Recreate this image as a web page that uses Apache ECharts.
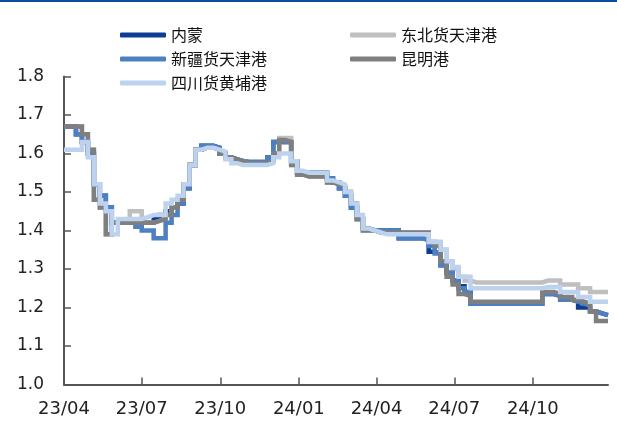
<!DOCTYPE html>
<html><head><meta charset="utf-8">
<script src="https://cdn.jsdelivr.net/npm/echarts@6/dist/echarts.min.js"></script>
<style>html,body{margin:0;padding:0;background:#fff}#c{width:617px;height:423px}</style>
</head><body><div id="c"></div>
<script>
// weekly dates
const dates = [
'2023-04-01','2023-04-08','2023-04-15','2023-04-22','2023-04-29','2023-05-06','2023-05-13','2023-05-20','2023-05-27','2023-06-03',
'2023-06-10','2023-06-17','2023-06-24','2023-07-01','2023-07-08','2023-07-15','2023-07-22','2023-07-29','2023-08-05','2023-08-12',
'2023-08-19','2023-08-26','2023-09-02','2023-09-09','2023-09-16','2023-09-23','2023-09-30','2023-10-07','2023-10-14','2023-10-21',
'2023-10-28','2023-11-04','2023-11-11','2023-11-18','2023-11-25','2023-12-02','2023-12-09','2023-12-16','2023-12-23','2023-12-30',
'2024-01-06','2024-01-13','2024-01-20','2024-01-27','2024-02-03','2024-02-10','2024-02-17','2024-02-24','2024-03-02','2024-03-09',
'2024-03-16','2024-03-23','2024-03-30','2024-04-06','2024-04-13','2024-04-20','2024-04-27','2024-05-04','2024-05-11','2024-05-18',
'2024-05-25','2024-06-01','2024-06-08','2024-06-15','2024-06-22','2024-06-29','2024-07-06','2024-07-13','2024-07-20','2024-07-27',
'2024-08-03','2024-08-10','2024-08-17','2024-08-24','2024-08-31','2024-09-07','2024-09-14','2024-09-21','2024-09-28','2024-10-05',
'2024-10-12','2024-10-19','2024-10-26','2024-11-02','2024-11-09','2024-11-16','2024-11-23','2024-11-30','2024-12-07','2024-12-14',
'2024-12-21','2024-12-28'];

const neimeng = [
1.67,1.67,1.65,1.63,1.60,1.52,1.49,1.46,1.42,1.42,
1.42,1.42,1.41,1.42,1.42,1.43,1.44,1.45,1.46,1.47,
1.51,1.57,1.61,1.62,1.62,1.615,1.60,1.59,1.585,1.58,
1.578,1.578,1.578,1.578,1.59,1.63,1.63,1.63,1.58,1.55,
1.55,1.55,1.55,1.55,1.535,1.525,1.51,1.49,1.46,1.43,
1.405,1.40,1.40,1.40,1.40,1.40,1.38,1.38,1.38,1.38,
1.375,1.345,1.34,1.31,1.29,1.27,1.255,1.24,1.21,1.21,
1.21,1.21,1.21,1.21,1.21,1.21,1.21,1.21,1.21,1.21,
1.235,1.235,1.23,1.22,1.22,1.215,1.20,1.20,1.19,1.185,
1.18,1.18];

const dongbei = [
1.67,1.67,1.67,1.65,1.61,1.48,1.46,1.39,1.42,1.42,
1.42,1.45,1.45,1.42,1.42,1.425,1.43,1.44,1.46,1.48,
1.52,1.57,1.61,1.615,1.615,1.61,1.60,1.59,1.585,1.58,
1.575,1.575,1.575,1.575,1.58,1.60,1.64,1.64,1.57,1.545,
1.54,1.54,1.54,1.54,1.525,1.52,1.515,1.50,1.47,1.43,
1.40,1.40,1.395,1.395,1.395,1.395,1.395,1.395,1.395,1.395,
1.395,1.37,1.37,1.35,1.32,1.30,1.28,1.27,1.265,1.265,
1.265,1.265,1.265,1.265,1.265,1.265,1.265,1.265,1.265,1.265,
1.27,1.27,1.27,1.26,1.26,1.26,1.25,1.25,1.24,1.24,
1.24,1.24];

const xinjiang = [
1.67,1.67,1.65,1.63,1.60,1.52,1.49,1.46,1.42,1.42,
1.42,1.42,1.41,1.40,1.40,1.38,1.38,1.42,1.44,1.47,
1.51,1.57,1.61,1.62,1.62,1.615,1.60,1.59,1.585,1.58,
1.578,1.578,1.578,1.578,1.59,1.63,1.63,1.63,1.58,1.55,
1.55,1.55,1.55,1.55,1.535,1.525,1.51,1.49,1.46,1.43,
1.405,1.40,1.40,1.40,1.40,1.40,1.38,1.38,1.38,1.38,
1.375,1.36,1.34,1.31,1.29,1.27,1.25,1.24,1.21,1.21,
1.21,1.21,1.21,1.21,1.21,1.21,1.21,1.21,1.21,1.21,
1.235,1.235,1.23,1.22,1.22,1.215,1.21,1.205,1.19,1.185,
1.18,1.18];

const kunming = [
1.67,1.67,1.67,1.65,1.61,1.48,1.46,1.39,1.42,1.42,
1.42,1.42,1.42,1.42,1.42,1.425,1.43,1.44,1.46,1.48,
1.52,1.57,1.61,1.615,1.615,1.61,1.60,1.59,1.585,1.58,
1.575,1.575,1.575,1.575,1.58,1.60,1.635,1.63,1.57,1.545,
1.54,1.54,1.54,1.54,1.525,1.52,1.515,1.50,1.47,1.43,
1.40,1.40,1.395,1.395,1.395,1.395,1.395,1.395,1.395,1.395,
1.395,1.37,1.36,1.32,1.28,1.26,1.235,1.23,1.215,1.215,
1.215,1.215,1.215,1.215,1.215,1.215,1.215,1.215,1.215,1.215,
1.24,1.24,1.235,1.227,1.227,1.22,1.215,1.21,1.19,1.165,
1.165,1.165];

const sichuan = [
1.61,1.61,1.61,1.63,1.59,1.52,1.47,1.45,1.39,1.43,
1.43,1.43,1.43,1.435,1.44,1.44,1.44,1.47,1.48,1.49,
1.52,1.57,1.61,1.615,1.615,1.61,1.605,1.585,1.575,1.57,
1.57,1.57,1.57,1.57,1.575,1.59,1.60,1.60,1.58,1.555,
1.55,1.55,1.55,1.55,1.53,1.525,1.52,1.50,1.47,1.44,
1.405,1.40,1.395,1.39,1.39,1.39,1.39,1.39,1.39,1.39,
1.39,1.37,1.37,1.35,1.32,1.305,1.28,1.28,1.25,1.25,
1.25,1.25,1.25,1.25,1.25,1.25,1.25,1.25,1.25,1.25,
1.253,1.253,1.253,1.24,1.24,1.24,1.227,1.227,1.215,1.215,
1.215,1.215];

const tickLabels = ['23/04','23/07','23/10','24/01','24/04','24/07','24/10'];
const yTicks = [1.0,1.1,1.2,1.3,1.4,1.5,1.6,1.7,1.8];

const toTs = s => { const p = s.split('-').map(Number); return Date.UTC(p[0], p[1]-1, p[2]); };
const lblTs = l => { const p = l.split('/').map(Number); return Date.UTC(2000+p[0], p[1]-1, 1); };
const tickTs = tickLabels.map(lblTs);
const pairs = arr => dates.map((d,i) => [toTs(d), arr[i]]);

const names = ['内蒙','东北货天津港','新疆货天津港','昆明港','四川货黄埔港'];
const colors = ['#0b3d94','#bfbfbf','#4d80c3','#7f7f7f','#bcd2ee'];
const values = [neimeng, dongbei, xinjiang, kunming, sichuan];

const chart = echarts.init(document.getElementById('c'), null, {renderer:'canvas'});
const legendText = {fontFamily:'"Noto Sans CJK SC", sans-serif', fontSize:16, color:'#111', lineHeight:20};
chart.setOption({
  animation:false,
  color: colors,
  graphic:[{type:'rect', shape:{x:0,y:0,width:617,height:2}, style:{fill:'#0d4a9c'}}],
  legend:[
    {orient:'vertical', left:120, top:25, padding:0, itemWidth:46, itemHeight:5, itemGap:4, icon:'roundRect',
     data:['内蒙','新疆货天津港','四川货黄埔港'], textStyle:legendText},
    {orient:'vertical', left:350, top:25, padding:0, itemWidth:46, itemHeight:5, itemGap:4, icon:'roundRect',
     data:['东北货天津港','昆明港'], textStyle:legendText}
  ],
  grid:{left:64, right:9, top:76.5, bottom:38.5, containLabel:false},
  xAxis:{
    type:'value', min:toTs(dates[0]), max:toTs(dates[dates.length-1]),
    splitLine:{show:false},
    axisLine:{show:true, lineStyle:{color:'#555', width:2}},
    axisTick:{show:true, inside:true, length:7, lineStyle:{color:'#555', width:1.5}, customValues:tickTs},
    axisLabel:{customValues:tickTs, margin:16, fontFamily:'"DejaVu Sans", Verdana, sans-serif', fontSize:18, color:'#222',
      formatter: v => { const i = tickTs.indexOf(v); return i>=0 ? tickLabels[i] : ''; }}
  },
  yAxis:{
    type:'value', min:yTicks[0], max:yTicks[yTicks.length-1], interval:0.1,
    splitLine:{show:false},
    axisLine:{show:true, lineStyle:{color:'#555', width:2}},
    axisTick:{show:true, inside:true, length:7, lineStyle:{color:'#555', width:1.5}},
    axisLabel:{margin:20, fontFamily:'"DejaVu Sans", Verdana, sans-serif', fontSize:17, color:'#222',
      formatter: v => v.toFixed(1)}
  },
  series: names.map((n,k) => ({
    name:n, type:'line', step:'end', showSymbol:false, symbol:'none',
    data: pairs(values[k]),
    lineStyle:{width:4.5, color:colors[k], join:'miter'},
    itemStyle:{color:colors[k]},
    z: 2+k
  }))
});
</script></body></html>
